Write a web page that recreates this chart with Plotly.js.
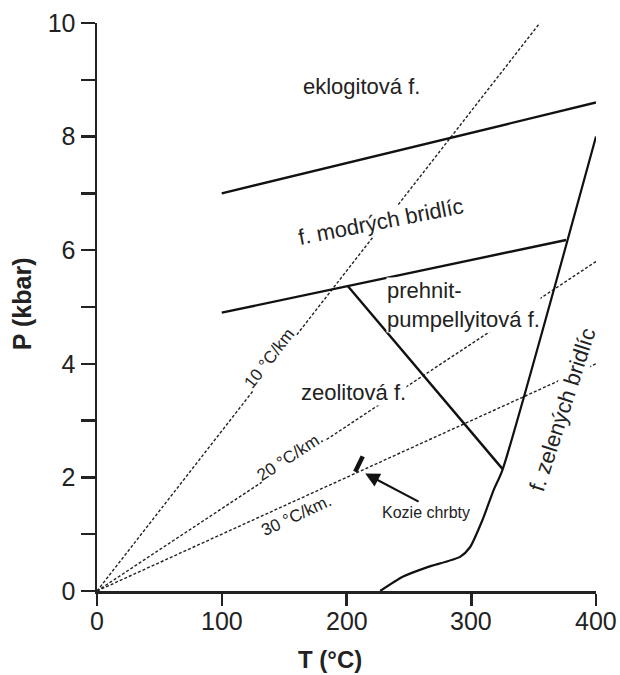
<!DOCTYPE html>
<html>
<head>
<meta charset="utf-8">
<script src="https://cdn.plot.ly/plotly-3.0.1.min.js"></script>
<style>html,body{margin:0;padding:0;background:#fff;}#chart{width:620px;height:675px;}</style>
</head>
<body>
<div id="chart"></div>
<script>
// Geotherms (T in °C, P in kbar)
const geo10T = [0, 355];
const geo10P = [0, 10];
const geo20T = [0, 400];
const geo20P = [0, 5.8];
const geo30T = [0, 400];
const geo30P = [0, 4.0];
// Facies boundaries
const blueUpperT = [100, 400];
const blueUpperP = [7.0, 8.6];
const blueLowerT = [100, 376];
const blueLowerP = [4.9, 6.18];
const prehT = [201, 325];
const prehP = [5.37, 2.15];
const greenT = [227, 245, 265, 291, 299, 309, 318, 325, 400];
const greenP = [0, 0.25, 0.42, 0.6, 0.77, 1.25, 1.78, 2.13, 8.0];
// Kozie chrbty mark
const kozT = [207, 213];
const kozP = [2.1, 2.37];
// Axis ticks
const yTickVals = [0,1,2,3,4,5,6,7,8,9,10];
const yTickText = ['0','','2','','4','','6','','8','','10'];
const xTickVals = [0,100,200,300,400];
const xTickText = ['0','100','200','300','400'];

const dotLine = {color:'#222', width:1.4, dash:'3px,2px'};
const solidLine = {color:'#111', width:2.4};

const traces = [
  {x:geo10T, y:geo10P, mode:'lines', line:dotLine},
  {x:geo20T, y:geo20P, mode:'lines', line:dotLine},
  {x:geo30T, y:geo30P, mode:'lines', line:dotLine},
  {x:blueUpperT, y:blueUpperP, mode:'lines', line:solidLine},
  {x:blueLowerT, y:blueLowerP, mode:'lines', line:solidLine},
  {x:prehT, y:prehP, mode:'lines', line:solidLine},
  {x:greenT, y:greenP, mode:'lines', line:{color:'#111', width:2.2, shape:'spline', smoothing:0.6}},
  {x:kozT, y:kozP, mode:'lines', line:{color:'#111', width:4.5}}
];

const F = 'Liberation Sans, Arial, sans-serif';
function lab(text, x, y, size, angle, extra) {
  return Object.assign({text:text, x:x, y:y, xref:'x', yref:'y', showarrow:false,
    font:{family:F, size:size, color:'#222'}, textangle:angle||0, bgcolor:'#fff', borderpad:0}, extra||{});
}

const annotations = [
  lab('eklogitová f.', 212, 8.89, 22, 0),
  lab('f. modrých bridlíc', 228, 6.51, 22, -11),
  lab('prehnit-<br>pumpellyitová f.', 232, 5.03, 22, 0, {align:'left', xanchor:'left'}),
  lab('zeolitová f.', 206, 3.49, 22, 0),
  lab('f. zelených bridlíc', 373, 3.2, 22, -72),
  lab('10 °C/km', 138, 4.1, 17, -52),
  lab('20 °C/km.', 155, 2.36, 17, -33),
  lab('30 °C/km.', 160, 1.33, 17, -25),
  lab('Kozie chrbty', 264, 1.39, 16, 0, {bgcolor:'rgba(0,0,0,0)'}),
  {x:215, y:2.07, ax:259, ay:1.56, xref:'x', yref:'y', axref:'x', ayref:'y', text:'',
   showarrow:true, arrowhead:2, arrowsize:1.3, arrowwidth:2.2, arrowcolor:'#111'},
  {text:'<b>T (°C)</b>', x:187, y:0, xref:'x', yref:'paper', yanchor:'middle', yshift:-68, showarrow:false,
   font:{family:F, size:24, color:'#222'}},
  {text:'<b>P (kbar)</b>', x:0, y:5.05, xref:'paper', yref:'y', xanchor:'center', xshift:-75, showarrow:false,
   textangle:-90, font:{family:F, size:25, color:'#222'}}
];
xTickVals.forEach((v, i) => {
  annotations.push({text:xTickText[i], x:v, y:0, xref:'x', yref:'paper', yanchor:'top', yshift:-14,
    showarrow:false, font:{family:F, size:25, color:'#222'}});
});

const layout = {
  width:620, height:675,
  margin:{l:97, r:24, t:23, b:84},
  paper_bgcolor:'#fff', plot_bgcolor:'#fff',
  showlegend:false,
  font:{family:F, color:'#222'},
  xaxis:{range:[0,400], tickvals:xTickVals, ticks:'outside', ticklen:12, tickwidth:2.5, tickcolor:'#222',
    showline:true, linewidth:2.5, linecolor:'#222', showgrid:false, zeroline:false, showticklabels:false},
  yaxis:{range:[0,10], tickvals:yTickVals, ticktext:yTickText, ticks:'outside', ticklen:14, tickwidth:2.5, tickcolor:'#222',
    showline:true, linewidth:2.5, linecolor:'#222', showgrid:false, zeroline:false,
    tickfont:{size:25, family:F, color:'#222'}},
  annotations:annotations
};

Plotly.newPlot('chart', traces, layout, {displayModeBar:false, staticPlot:true});
</script>
</body>
</html>
